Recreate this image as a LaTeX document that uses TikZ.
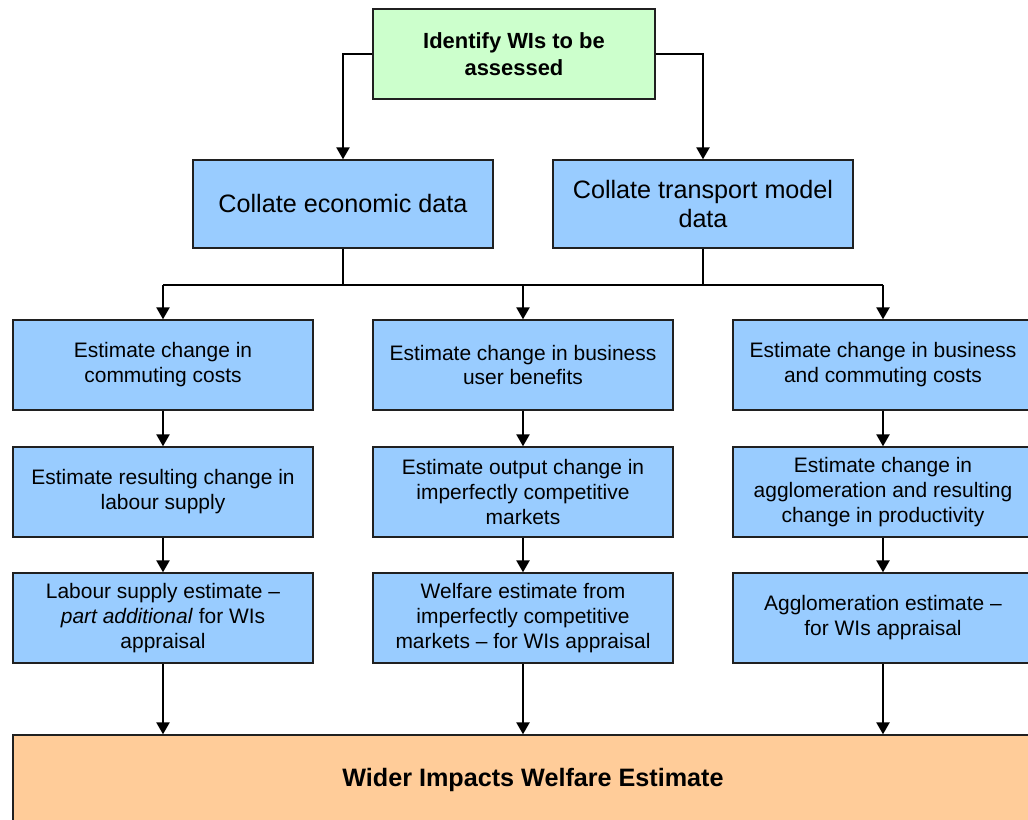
\documentclass[tikz,border=0pt]{standalone}
\usepackage{fontspec}
\setmainfont{Liberation Sans}
\usetikzlibrary{positioning, arrows.meta, calc}

\definecolor{boxblue}{HTML}{99CCFF}
\definecolor{boxgreen}{HTML}{CCFFCC}
\definecolor{boxorange}{HTML}{FFCC99}
\definecolor{edgegray}{HTML}{202020}

\begin{document}
\begin{tikzpicture}[
  x=0.025cm, y=-0.025cm,
  box/.style={rectangle, fill=boxblue, draw=edgegray, line width=1pt, minimum width=7.5cm, minimum height=2.25cm, align=center, inner sep=2pt, font=\fontsize{14.9pt}{17.7pt}\selectfont},
  bigbox/.style={box, minimum height=2.2cm, font=\fontsize{17.9pt}{21.3pt}\selectfont},
  topbox/.style={box, fill=boxgreen, minimum width=7.05cm, font=\fontsize{15.6pt}{19pt}\selectfont\bfseries},
  endbox/.style={box, fill=boxorange, minimum width=26cm, font=\fontsize{17.9pt}{21.3pt}\selectfont\bfseries},
  link/.style={-, black, line width=1.4pt},
  arr/.style={link, -{Triangle[length=0.3cm, width=0.33cm]}},
]

% page size (reference is cropped on the right and bottom)
\useasboundingbox (0,0) rectangle (1028,820);
\clip (0,0) rectangle (1028,820);

% =========================
% Top level
% =========================
\node[topbox] (ident) at (514,54) {Identify WIs to be\\assessed};

\node[bigbox] (econ)  at (343,204) {Collate economic data};
\node[bigbox] (trans) at (703,204) {Collate transport model\\data};

\draw[arr] (ident.west) -| (econ.north);
\draw[arr] (ident.east) -| (trans.north);

% =========================
% Three streams
% =========================
% row 1
\node[box] (comm) at (163,365) {Estimate change in\\commuting costs};
\node[box] (bus)  at (523,365) {Estimate change in business\\user benefits};
\node[box] (both) at (883,365) {Estimate change in business\\and commuting costs};

% row 2
\node[box] (labour) at (163,492) {Estimate resulting change in\\labour supply};
\node[box] (output) at (523,492) {Estimate output change in\\imperfectly competitive\\markets};
\node[box] (agglo)  at (883,492) {Estimate change in\\agglomeration and resulting\\change in productivity};

% row 3
\node[box] (labest) at (163,618) {Labour supply estimate --\\\textit{part additional} for WIs\\appraisal};
\node[box] (welest) at (523,618) {Welfare estimate from\\imperfectly competitive\\markets -- for WIs appraisal};
\node[box] (aggest) at (883,618) {Agglomeration estimate --\\for WIs appraisal};

% fork from the two data boxes
\coordinate (forkl) at (163,285);
\coordinate (forkr) at (883,285);
\draw[link] (econ.south) -- (econ.south |- forkl);
\draw[link] (trans.south) -- (trans.south |- forkl);
\draw[link] (forkl) -- (forkr);
\draw[arr] (forkl) -- (comm.north);
\draw[arr] (bus.north |- forkl) -- (bus.north);
\draw[arr] (forkr) -- (both.north);

% down each stream
\draw[arr] (comm) -- (labour);
\draw[arr] (labour) -- (labest);
\draw[arr] (bus) -- (output);
\draw[arr] (output) -- (welest);
\draw[arr] (both) -- (agglo);
\draw[arr] (agglo) -- (aggest);

% =========================
% Result
% =========================
\node[endbox] (wie) at (533,780) {Wider Impacts Welfare Estimate};

\draw[arr] (labest.south) -- (labest.south |- wie.north);
\draw[arr] (welest.south) -- (welest.south |- wie.north);
\draw[arr] (aggest.south) -- (aggest.south |- wie.north);

\end{tikzpicture}
\end{document}
